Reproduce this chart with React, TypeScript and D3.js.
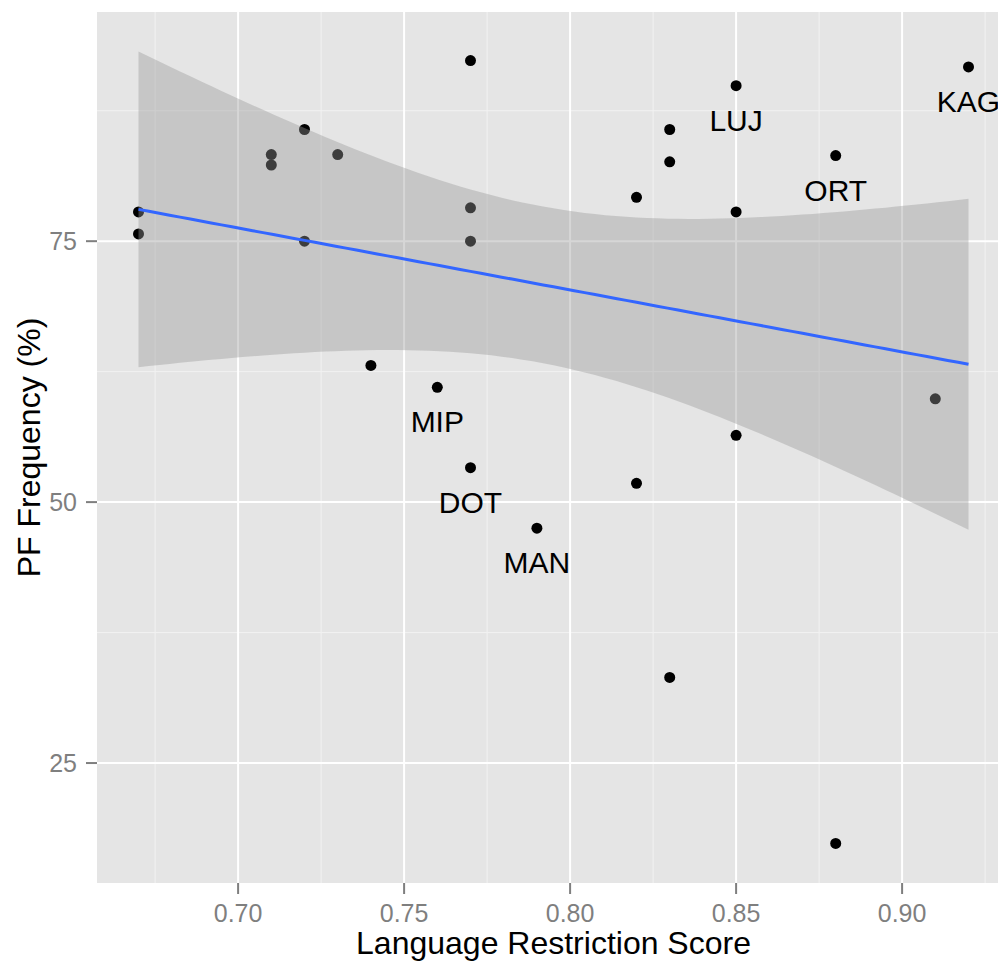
import React, { useEffect, useRef } from 'react'
import { select, scaleLinear, extent, range, line, area, mean, sum } from 'd3'

// scores and PF frequencies
const scores = [0.67, 0.67, 0.71, 0.71, 0.72, 0.72, 0.73, 0.74, 0.76, 0.77, 0.77, 0.77, 0.77, 0.79, 0.82, 0.82, 0.83, 0.83, 0.83, 0.85, 0.85, 0.85, 0.88, 0.88, 0.91, 0.92]
const freqs = [77.8, 75.7, 83.3, 82.3, 85.7, 75.0, 83.3, 63.1, 61.0, 92.3, 78.2, 75.0, 53.3, 47.5, 79.2, 51.8, 85.7, 82.6, 33.2, 89.9, 77.8, 56.4, 83.2, 17.3, 59.9, 91.7]
const labelIdx = [8, 12, 13, 19, 22, 25]
const labelText = ['MIP', 'DOT', 'MAN', 'LUJ', 'ORT', 'KAG']
const xBreaks = [0.70, 0.75, 0.80, 0.85, 0.90]
const yBreaks = [25, 50, 75]

// linear fit with 95% band, like geom_smooth(method = "lm")
function fitLm(xs: number[], ys: number[]) {
  const n = xs.length
  const mx = mean(xs) as number, my = mean(ys) as number
  const sxx = sum(xs, d => (d - mx) ** 2)
  const sxy = sum(xs.map((d, i) => (d - mx) * (ys[i] - my)))
  const b1 = sxy / sxx
  const b0 = my - b1 * mx
  const sse = sum(xs.map((d, i) => (ys[i] - b0 - b1 * d) ** 2))
  const s = Math.sqrt(sse / (n - 2))
  const t = 2.0639 // qt(0.975, 24)
  const [lo, hi] = extent(xs) as [number, number]
  return range(0, 81).map(k => {
    const x = lo + (hi - lo) * k / 80
    const fit = b0 + b1 * x
    const se = s * Math.sqrt(1 / n + (x - mx) ** 2 / sxx)
    return { x, fit, lo: fit - t * se, hi: fit + t * se }
  })
}

export default function App() {
  const ref = useRef<SVGSVGElement>(null)

  const W = 998, H = 962
  const panel = { left: 97, top: 12, right: 1010, bottom: 883 }

  useEffect(() => {
    const svg = select(ref.current)
    svg.selectAll('*').remove()

    const band = fitLm(scores, freqs)

    const [x0, x1] = extent(scores) as [number, number]
    const xPad = (x1 - x0) * 0.05
    const x = scaleLinear().domain([x0 - xPad, x1 + xPad]).range([panel.left, panel.right])

    const yAll = freqs.concat(band.map(d => d.lo), band.map(d => d.hi))
    const [y0, y1] = extent(yAll) as [number, number]
    const yPad = (y1 - y0) * 0.05
    const y = scaleLinear().domain([y0 - yPad, y1 + yPad]).range([panel.bottom, panel.top])

    svg.append('rect')
      .attr('x', panel.left).attr('y', panel.top)
      .attr('width', panel.right - panel.left).attr('height', panel.bottom - panel.top)
      .attr('fill', '#E5E5E5')

    // minor grid
    const xMinor = xBreaks.map(d => d - 0.025).concat([xBreaks[xBreaks.length - 1] + 0.025])
    const yMinor = yBreaks.map(d => d + 12.5).concat([yBreaks[0] - 12.5]).filter(d => d > y.domain()[0] && d < y.domain()[1])
    svg.selectAll('.xminor').data(xMinor).join('line')
      .attr('x1', d => x(d)).attr('x2', d => x(d))
      .attr('y1', panel.top).attr('y2', panel.bottom)
      .attr('stroke', '#F2F2F2').attr('stroke-width', 1)
    svg.selectAll('.yminor').data(yMinor).join('line')
      .attr('y1', d => y(d)).attr('y2', d => y(d))
      .attr('x1', panel.left).attr('x2', panel.right)
      .attr('stroke', '#F2F2F2').attr('stroke-width', 1)

    // major grid
    svg.selectAll('.xmajor').data(xBreaks).join('line')
      .attr('x1', d => x(d)).attr('x2', d => x(d))
      .attr('y1', panel.top).attr('y2', panel.bottom)
      .attr('stroke', '#FFFFFF').attr('stroke-width', 2)
    svg.selectAll('.ymajor').data(yBreaks).join('line')
      .attr('y1', d => y(d)).attr('y2', d => y(d))
      .attr('x1', panel.left).attr('x2', panel.right)
      .attr('stroke', '#FFFFFF').attr('stroke-width', 2)

    // points
    svg.append('g').selectAll('circle').data(scores).join('circle')
      .attr('cx', d => x(d)).attr('cy', (d, i) => y(freqs[i]))
      .attr('r', 5.5).attr('fill', '#000')

    // confidence band over the points
    svg.append('path')
      .datum(band)
      .attr('d', area<any>().x(d => x(d.x)).y0(d => y(d.lo)).y1(d => y(d.hi)))
      .attr('fill', '#999999').attr('fill-opacity', 0.4)

    svg.append('path')
      .datum(band)
      .attr('d', line<any>().x(d => x(d.x)).y(d => y(d.fit)))
      .attr('fill', 'none').attr('stroke', '#3366FF').attr('stroke-width', 3)

    // labels
    svg.append('g').selectAll('text').data(labelIdx).join('text')
      .attr('x', d => x(scores[d])).attr('y', d => y(freqs[d]) + 45)
      .attr('text-anchor', 'middle')
      .style('font-family', 'Liberation Sans, Arial, sans-serif')
      .style('font-size', '30px').attr('fill', '#000')
      .text((d, i) => labelText[i])

    // axes
    const tickCol = '#7F7F7F'
    svg.selectAll('.xtick').data(xBreaks).join('line')
      .attr('x1', d => x(d)).attr('x2', d => x(d))
      .attr('y1', panel.bottom).attr('y2', panel.bottom + 11)
      .attr('stroke', tickCol).attr('stroke-width', 2)
    svg.selectAll('.xlab').data(xBreaks).join('text')
      .attr('x', d => x(d)).attr('y', 922)
      .attr('text-anchor', 'middle')
      .style('font-family', 'Liberation Sans, Arial, sans-serif')
      .style('font-size', '25px').attr('fill', tickCol)
      .text(d => d.toFixed(2))
    svg.selectAll('.ytick').data(yBreaks).join('line')
      .attr('y1', d => y(d)).attr('y2', d => y(d))
      .attr('x1', panel.left - 11).attr('x2', panel.left)
      .attr('stroke', tickCol).attr('stroke-width', 2)
    svg.selectAll('.ylab').data(yBreaks).join('text')
      .attr('x', 77).attr('y', d => y(d))
      .attr('dy', '0.35em')
      .attr('text-anchor', 'end')
      .style('font-family', 'Liberation Sans, Arial, sans-serif')
      .style('font-size', '25px').attr('fill', tickCol)
      .text(d => d)

    svg.append('text')
      .attr('x', (panel.left + panel.right) / 2).attr('y', 954)
      .attr('text-anchor', 'middle')
      .style('font-family', 'Liberation Sans, Arial, sans-serif')
      .style('font-size', '32px').attr('fill', '#000')
      .text('Language Restriction Score')

    svg.append('text')
      .attr('transform', `translate(40,${(panel.top + panel.bottom) / 2}) rotate(-90)`)
      .attr('text-anchor', 'middle')
      .style('font-family', 'Liberation Sans, Arial, sans-serif')
      .style('font-size', '32px').attr('fill', '#000')
      .text('PF Frequency (%)')
  }, [])

  return (
    <svg ref={ref} width={W} height={H}
      style={{ position: 'absolute', left: 0, top: 0, background: '#fff', overflow: 'hidden' }} />
  )
}
